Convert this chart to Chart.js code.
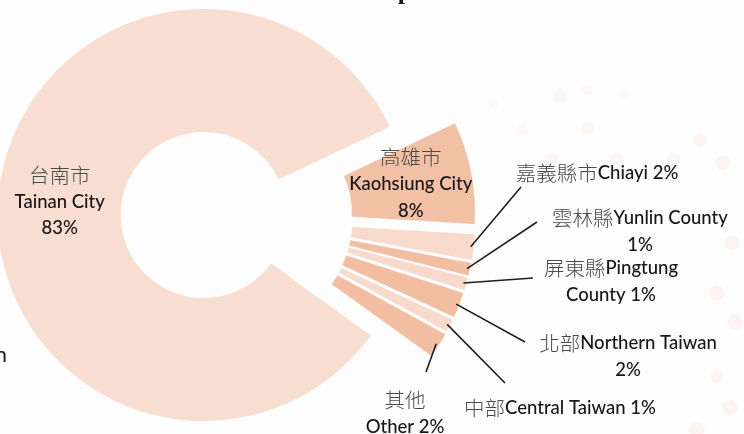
<!DOCTYPE html>
<html>
<head>
<meta charset="utf-8">
<script src="https://cdn.jsdelivr.net/npm/chart.js@4.4.1/dist/chart.umd.min.js"></script>
<style>
  html, body { margin: 0; padding: 0; background: #fefdfd; }
  #wrap {
    position: relative; width: 744px; height: 434px; overflow: hidden;
    background:
      radial-gradient(circle at 560px 97px, #fdf5f2 0 6px, transparent 7px),
      radial-gradient(circle at 588px 128px, #fdf5f2 0 6px, transparent 7px),
      radial-gradient(circle at 522px 130px, #fdf7f5 0 5px, transparent 6px),
      radial-gradient(circle at 494px 104px, #fdf7f5 0 4px, transparent 5px),
      radial-gradient(circle at 551px 159px, #fdf5f2 0 6px, transparent 7px),
      radial-gradient(circle at 617px 159px, #fdf5f2 0 6px, transparent 7px),
      radial-gradient(circle at 674px 159px, #fdf5f2 0 6px, transparent 7px),
      radial-gradient(circle at 624px 95px, #fdf7f5 0 4px, transparent 5px),
      radial-gradient(circle at 587px 90px, #fdf7f5 0 5px, transparent 6px),
      radial-gradient(circle at 700px 140px, #fdf5f2 0 6px, transparent 7px),
      radial-gradient(circle at 723px 163px, #fdf3f0 0 7px, transparent 8px),
      radial-gradient(circle at 732px 243px, #fdf3f0 0 7px, transparent 8px),
      radial-gradient(circle at 717px 293px, #fdf3f0 0 7px, transparent 8px),
      radial-gradient(circle at 735px 322px, #fdf3f0 0 7px, transparent 8px),
      radial-gradient(circle at 717px 377px, #fdf5f2 0 6px, transparent 7px),
      radial-gradient(circle at 730px 407px, #fdf3f0 0 7px, transparent 8px),
      radial-gradient(circle at 697px 430px, #fdf3f0 0 7px, transparent 8px),
      #fefdfd;
  }
  canvas { display: block; }
</style>
</head>
<body>
<div id="wrap"><canvas id="pie" width="744" height="434"></canvas></div>
<script>
// data: share of respondents by region
const regionsZh = ['台南市', '高雄市', '嘉義縣市', '雲林縣', '屏東縣', '北部', '中部', '其他'];
const regionsEn = ['Tainan City', 'Kaohsiung City', 'Chiayi', 'Yunlin County', 'Pingtung County', 'Northern Taiwan', 'Central Taiwan', 'Other'];
const shares = [83, 8, 2, 1, 1, 2, 1, 2];

// alternating light / dark peach
const sliceColors = ['#f8ddd1', '#f2c0a5', '#f8dacc', '#f2bea2', '#f8dacc', '#f2bea2', '#f8dacc', '#f2bea2'];

const EXPLODE = 33;

const pct = i => shares[i] + '%';

// label lines, with the line breaks used in the picture
const labelLines = [
  [regionsZh[0], regionsEn[0], pct(0)],
  [regionsZh[1], regionsEn[1], pct(1)],
  [regionsZh[2] + regionsEn[2] + ' ' + pct(2)],
  [regionsZh[3] + regionsEn[3], pct(3)],
  [regionsZh[4] + regionsEn[4].split(' ')[0], regionsEn[4].split(' ')[1] + ' ' + pct(4)],
  [regionsZh[5] + regionsEn[5], pct(5)],
  [regionsZh[6] + regionsEn[6] + ' ' + pct(6)],
  [regionsZh[7], regionsEn[7] + ' ' + pct(7)]
];

// where the outside labels go: leader line end and label centre
const outside = {
  2: { end: [521, 187], at: [597, 173] },
  3: { end: [537, 222], at: [640, 218] },
  4: { end: [533, 278], at: [611, 268] },
  5: { end: [525, 342], at: [628, 343] },
  6: { end: [505, 383], at: [560, 408] },
  7: { end: [426, 372], at: [405, 400] }
};

const LATIN_FONT = '500 18.5px Lato, "Noto Sans", sans-serif';
const CJK_FONT = '300 20.5px "Noto Sans CJK TC", sans-serif';

function drawRich(ctx, text, cx, cy) {
  const runs = text.match(/[\u3400-\u9fff]+|[^\u3400-\u9fff]+/g) || [];
  const parts = runs.map(t => {
    const cjk = /[\u3400-\u9fff]/.test(t);
    ctx.font = cjk ? CJK_FONT : LATIN_FONT;
    return { t, cjk, w: ctx.measureText(t).width };
  });
  const total = parts.reduce((s, p) => s + p.w, 0);
  let x = cx - total / 2;
  ctx.textBaseline = 'middle';
  ctx.textAlign = 'left';
  parts.forEach(p => {
    ctx.font = p.cjk ? CJK_FONT : LATIN_FONT;
    ctx.fillStyle = p.cjk ? '#4a4a4a' : '#161616';
    ctx.fillText(p.t, x, cy);
    x += p.w;
  });
}

// push every slice out along its own mid angle
const explodePlugin = {
  id: 'explode',
  afterDatasetsUpdate(chart) {
    chart.getDatasetMeta(0).data.forEach(arc => {
      const mid = (arc.startAngle + arc.endAngle) / 2;
      arc.x += Math.cos(mid) * EXPLODE;
      arc.y += Math.sin(mid) * EXPLODE;
    });
  }
};

const labelPlugin = {
  id: 'sliceLabels',
  afterDatasetsDraw(chart) {
    const ctx = chart.ctx;
    const arcs = chart.getDatasetMeta(0).data;
    ctx.save();
    arcs.forEach((arc, i) => {
      const lines = labelLines[i];
      if (outside[i]) {
        const mid = (arc.startAngle + arc.endAngle) / 2;
        const r = arc.outerRadius - 3;
        ctx.beginPath();
        ctx.moveTo(arc.x + Math.cos(mid) * r, arc.y + Math.sin(mid) * r);
        ctx.lineTo(outside[i].end[0], outside[i].end[1]);
        ctx.strokeStyle = '#1e1e1e';
        ctx.lineWidth = 1.6;
        ctx.stroke();
        const [lx, ly] = outside[i].at;
        lines.forEach((ln, k) => drawRich(ctx, ln, lx, ly + k * 27));
      } else {
        const c = arc.getCenterPoint();
        const y0 = c.y - (lines.length - 1) * 26.5 / 2;
        lines.forEach((ln, k) => drawRich(ctx, ln, c.x, y0 + k * 26.5));
      }
    });

    // pieces of text cut off by the picture's edges
    ctx.fillStyle = '#1c1c1c';
    ctx.textBaseline = 'alphabetic';
    ctx.font = 'bold 26px "Liberation Serif", serif';
    ctx.textAlign = 'center';
    ctx.fillText('p', 405, -1);
    ctx.font = '22px Lato, sans-serif';
    ctx.textAlign = 'right';
    ctx.fillText('n', 7, 362);
    ctx.restore();
  }
};

new Chart(document.getElementById('pie'), {
  type: 'doughnut',
  data: {
    labels: regionsEn,
    datasets: [{
      data: shares,
      backgroundColor: sliceColors,
      borderWidth: 0,
      clip: false
    }]
  },
  options: {
    responsive: false,
    animation: false,
    events: [],
    rotation: 125.8,
    radius: 206,
    cutout: '40.3%',
    layout: { padding: { left: 0, top: 2, right: 271, bottom: 0 } },
    plugins: {
      legend: { display: false },
      title: { display: false },
      tooltip: { enabled: false }
    }
  },
  plugins: [explodePlugin, labelPlugin]
});
</script>
</body>
</html>
